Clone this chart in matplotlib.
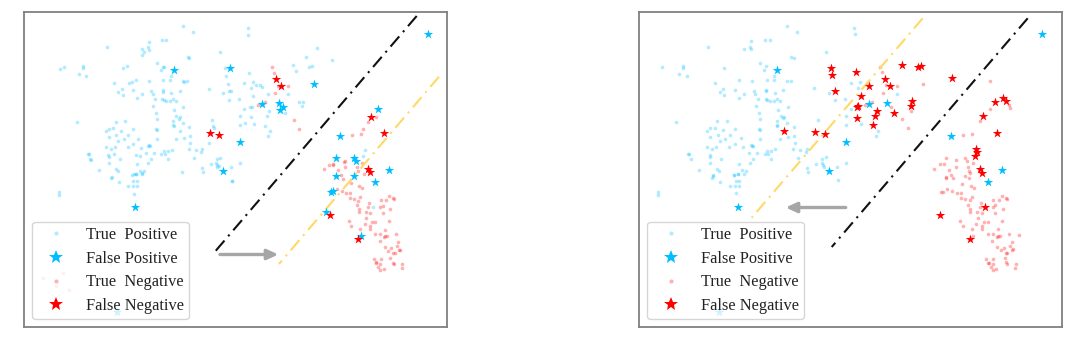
import matplotlib
matplotlib.use('Agg')
import matplotlib.pyplot as plt
from matplotlib.lines import Line2D

plt.rcParams['font.family'] = ['Liberation Serif', 'DejaVu Serif']

# points, each list is in its own read-out window:
# 3 units per picture pixel, origin given by the windows below
win_upper_left = (20, 5)
win_lower_left = (20, 165)
win_upper_mid = (230, 5)
win_lower_mid = (230, 165)
win_upper_right = (635, 5)
win_lower_right = (635, 165)
win_upper_far = (845, 5)
win_lower_far = (845, 165)

# left panel
tp_a = [(489,64),(518,81),(386,110),(426,105),(439,106),(262,127),(383,126),(387,134),(365,133),(373,140),(367,149),(601,140),(503,155),(508,160),(412,174),(120,191),(131,187),(189,184),(190,190),(177,207),(199,213),(309,190),(322,183),(429,185),(431,187),(423,196),(452,212),(616,190),(618,212),(430,224),(451,224),(489,229),(491,231),(501,229),(388,229),(349,226),(336,231),(326,234),(283,235),(623,237),(566,251),(306,253),(295,261),(308,269),(340,254),(366,268),(394,259),(399,267),(428,254),(428,260),(454,265),(479,257),(610,263),(626,257),(633,257),(656,282),(628,285),(350,280),(406,282),(427,281),(431,285),(439,287),(451,289),(460,283),(469,288),(398,304),(490,307),(462,316),(409,325),(411,341),(469,332),(481,336),(478,342),(459,347),(460,360),(462,364),(490,355),(508,366),(577,345),(579,363),(581,368),(660,332),(288,350),(316,348),(170,351),(266,371),(258,378),(280,370),(303,377),(339,371),(408,372),(410,375),(480,378),(266,395),(289,391),(325,390),(312,403),(355,401),(295,409),(410,403),(468,403),(493,398),(510,394),(511,413),(568,415),(258,426),(284,426),(272,433),(323,426),(339,418),(384,422),(387,421),(390,424),(364,428),(283,447),(349,450),(361,454),(379,445),(403,443),(424,447),(432,437),(435,447),(444,438),(455,435),(506,433),(528,435),(545,433),(543,440),(204,447),(207,448),(264,451),(266,457),(299,463),(209,463),(213,464),(392,463),(443,463),(522,458),(601,458),(592,463),(267,475),(352,478),(383,474),(572,476),(587,475),(590,480),(592,487),(598,484),(660,473),(632,487),(545,488),(236,495),(287,492),(293,498),(360,497),(372,499),(349,507),(343,508),(365,505),(485,500),(548,500)]
tp_b = [(275,35),(272,39),(297,52),(336,31),(348,28),(367,28),(340,48),(351,48),(325,62),(339,62),(352,64),(342,87),(118,80),(118,90),(635,47),(269,297)]
tp_c = [(53,68),(55,89),(260,129),(228,157),(306,165),(190,181),(197,198),(238,187),(245,184),(56,203),(43,235),(69,231),(79,239),(90,240),(97,245),(63,250),(115,266),(174,268),(70,273),(206,292),(219,291),(217,303),(65,305),(60,306),(42,312),(116,319),(166,324),(64,335),(112,334),(45,353),(30,360),(71,356),(105,362),(120,379),(115,394),(404,436),(400,453)]
tp_d = [(430,127),(5,47)]
tn_b = [(130,323),(70,340),(146,374),(108,364)]
tn_c = [(127,185),(133,203),(175,244),(145,243),(135,265),(106,290),(85,300),(191,344),(207,371),(439,337),(414,350),(400,373),(367,389),(392,388),(344,467),(342,470),(310,476),(298,479),(309,481),(397,473)]
tn_d = [(281,13),(323,16),(332,30),(344,5),(380,5),(383,17),(401,27),(338,41),(362,55),(387,64),(397,70),(322,73),(335,79),(349,83),(359,84),(390,96),(360,100),(371,103),(384,107),(380,121),(386,133),(387,141),(414,127),(417,114),(453,106),(468,104),(477,93),(490,98),(492,103),(458,122),(451,127),(480,132),(408,141),(420,143),(458,144),(408,160),(356,169),(364,183),(404,176),(427,172),(436,172),(421,182),(420,192),(391,193),(478,169),(465,194),(436,207),(451,208),(462,215),(466,213),(471,214),(498,208),(449,228),(505,232),(464,246),(501,244),(484,250),(475,257),(510,254),(507,255),(490,265),(494,263),(433,281),(453,281),(481,279),(439,294),(437,292),(451,296),(489,294),(493,296),(517,297),(445,306),(515,309),(451,315),(461,313)]
fp_a = [(461,196),(609,497),(631,188)]
fp_b = [(346,125),(292,442)]
fp_c = [(252,237),(593,87),(95,297),(148,294),(158,307),(151,316),(30,411),(443,313),(331,394),(318,459),(373,459),(378,467),(477,495)]
fp_d = [(318,33),(371,34),(435,51),(302,81),(309,79),(289,140),(394,212)]
fn_a = [(569,383),(597,389)]
fn_c = [(139,223),(154,243),(424,335),(462,385)]
fn_d = [(415,12),(420,22),(300,149),(385,221)]

# right panel
tp_e = [(456,63),(487,80),(349,109),(391,105),(405,106),(219,126),(345,125),(349,133),(326,133),(573,140),(469,155),(476,160),(376,173),(82,187),(144,183),(145,189),(131,207),(155,212),(268,190),(394,184),(387,196),(418,212),(417,224),(395,224),(456,228),(468,228),(352,228),(311,226),(241,235),(647,235),(537,250),(265,253),(254,260),(268,269),(301,254),(328,267),(357,258),(361,266),(393,255),(393,259),(420,264),(445,256),(583,263),(630,282),(311,280),(369,282),(392,281),(396,285),(404,287),(416,287),(425,282),(435,288),(601,285),(362,303),(458,306),(428,316),(373,325),(375,341),(437,332),(447,336),(444,340),(425,347),(427,360),(426,364),(456,355),(476,366),(548,344),(634,332),(647,312),(247,349),(276,347),(124,350),(224,370),(215,378),(239,370),(263,376),(300,371),(372,372),(374,375),(248,390),(286,390),(224,395),(317,400),(374,403),(271,403),(254,409),(299,418),(435,403),(460,397),(478,393),(479,413),(215,425),(243,426),(231,433),(282,426),(325,427),(348,420),(351,422),(354,424),(366,443),(342,445),(389,446),(397,437),(398,447),(409,437),(421,433),(473,433),(496,434),(515,433),(512,441),(160,447),(163,448),(224,451),(226,457),(259,463),(167,463),(355,463),(409,463),(490,458),(572,457),(561,463),(634,473),(313,478),(345,473),(225,475),(542,476),(560,475),(563,480),(566,487),(605,487),(515,488),(192,494),(245,491),(253,498),(322,495),(334,498),(518,501),(310,507),(296,510),(234,510)]
tp_f = [(230,38),(233,32),(255,52),(296,31),(309,28),(328,28),(302,48),(312,48),(285,62),(300,62),(312,64),(304,85),(70,80),(69,90),(609,46)]
tp_g = [(28,68),(30,88),(45,230),(39,249),(155,267),(3,360),(47,356),(99,379),(93,393)]
tn_g = [(104,185),(112,202),(156,243),(123,241),(113,265),(235,236),(82,290),(60,299),(139,307),(199,319),(172,343),(188,370),(436,227),(435,312),(404,349),(492,299),(496,310),(355,389),(382,386),(304,459),(296,476),(285,478),(332,466),(361,459),(367,467),(385,473)]
tn_h = [(266,13),(311,16),(333,5),(369,5),(373,18),(376,24),(319,29),(325,40),(304,35),(302,40),(359,34),(372,38),(350,56),(377,64),(387,70),(288,81),(295,80),(307,73),(322,79),(337,83),(347,84),(381,95),(349,100),(361,103),(375,106),(369,120),(376,132),(376,141),(404,126),(408,114),(445,106),(461,104),(471,93),(484,98),(486,103),(451,121),(443,127),(474,132),(397,141),(410,143),(451,143),(399,159),(344,169),(353,182),(394,176),(417,172),(428,172),(411,182),(410,192),(381,193),(471,168),(458,193),(428,206),(443,208),(455,215),(460,213),(464,214),(493,207),(523,209),(441,228),(500,232),(456,245),(495,244),(477,250),(468,256),(505,253),(501,255),(483,264),(487,263),(424,281),(445,281),(481,279),(432,293),(428,294),(444,296),(484,292),(487,296),(512,297),(438,306),(510,309),(444,316),(454,313),(383,213)]
fp_e = [(427,195),(634,410),(581,497)]
fp_f = [(308,125),(251,442)]
fp_g = [(72,296),(127,293),(318,394),(591,87)]
fp_h = [(470,14),(428,51)]
fn_e = [(587,189),(591,211),(599,257),(447,377),(540,381),(569,388)]
fn_g = [(32,202),(171,180),(220,187),(228,183),(320,218),(119,222),(73,243),(135,242),(47,272),(40,302),(37,306),(201,289),(199,302),(95,318),(91,333),(147,323),(37,340),(83,360),(475,278),(483,287),(450,291),(415,333),(455,385),(394,433),(395,440),(390,452)]
fn_h = [(406,12),(411,23),(286,149),(421,126),(375,221)]

legend_labels = ['True  Positive', 'False Positive', 'True  Negative', 'False Negative']

BLUE = '#00BFFF'
RED = '#FF0000'
DASHES = (0, (6.4, 2.75, 1, 2.75))


def place(window, points):
    return [(window[0] + x / 3, window[1] + y / 3) for x, y in points]


def draw_panel(ax, tp, tn, fp, fn, black, yellow, arrow, legend_x):
    ax.scatter(*zip(*tp), s=7, color=BLUE, alpha=0.3, linewidths=0)
    ax.scatter(*zip(*tn), s=7, color=RED, alpha=0.3, linewidths=0)
    ax.plot(*zip(*black), color='#111111', lw=1.5, ls=DASHES)
    ax.plot(*zip(*yellow), color='#FFD966', lw=1.5, ls=DASHES)
    ax.scatter(*zip(*fp), s=50, marker='*', color=BLUE, linewidths=0, zorder=3)
    ax.scatter(*zip(*fn), s=50, marker='*', color=RED, linewidths=0, zorder=3)
    ax.annotate('', xy=arrow[1], xytext=arrow[0],
                arrowprops=dict(arrowstyle='-|>,head_width=0.3,head_length=0.65',
                                color='#A6A6A6', lw=2.4, shrinkA=0, shrinkB=0))
    handles = [Line2D([], [], ls='', marker='o', ms=3, color=BLUE, alpha=0.3, mew=0),
               Line2D([], [], ls='', marker='*', ms=10, color=BLUE, mew=0),
               Line2D([], [], ls='', marker='o', ms=3, color=RED, alpha=0.3, mew=0),
               Line2D([], [], ls='', marker='*', ms=10, color=RED, mew=0)]
    ax.legend(handles, legend_labels, loc='lower left', bbox_to_anchor=(legend_x, 319),
              bbox_transform=ax.transData, borderaxespad=0, fontsize=11.8,
              labelspacing=0.47, handletextpad=0.7, handlelength=2.26,
              borderpad=0.3, framealpha=0.8, labelcolor='#222222')
    ax.set_xticks([])
    ax.set_yticks([])
    for side in ax.spines.values():
        side.set_color('#808080')
        side.set_linewidth(1.3)


fig = plt.figure(figsize=(10.8, 3.46), dpi=100)
W, H = 1080, 346

ax1 = fig.add_axes([24 / W, 1 - 327 / H, 423 / W, 315 / H])
ax1.set_xlim(24, 447)
ax1.set_ylim(327, 12)
draw_panel(ax1,
           place(win_upper_left, tp_a) + place(win_lower_left, tp_b) + place(win_upper_mid, tp_c) + place(win_lower_mid, tp_d),
           place(win_lower_left, tn_b) + place(win_upper_mid, tn_c) + place(win_lower_mid, tn_d),
           place(win_upper_left, fp_a) + place(win_lower_left, fp_b) + place(win_upper_mid, fp_c) + place(win_lower_mid, fp_d),
           place(win_upper_left, fn_a) + place(win_upper_mid, fn_c) + place(win_lower_mid, fn_d),
           [(416.7, 16), (212.7, 254.3)], [(439, 76.7), (279, 264)],
           [(220, 254.5), (278.3, 254.5)], 32.3)

ax2 = fig.add_axes([639 / W, 1 - 327 / H, 423 / W, 315 / H])
ax2.set_xlim(639, 1062)
ax2.set_ylim(327, 12)
draw_panel(ax2,
           place(win_upper_right, tp_e) + place(win_lower_right, tp_f) + place(win_upper_far, tp_g),
           place(win_upper_far, tn_g) + place(win_lower_far, tn_h),
           place(win_upper_right, fp_e) + place(win_lower_right, fp_f) + place(win_upper_far, fp_g) + place(win_lower_far, fp_h),
           place(win_upper_right, fn_e) + place(win_upper_far, fn_g) + place(win_lower_far, fn_h),
           [(1027.7, 18.3), (831.7, 247)], [(922.7, 18.3), (751.7, 217.7)],
           [(845.7, 207.5), (785.7, 207.5)], 647.3)

fig.savefig('out.png', dpi=100)
